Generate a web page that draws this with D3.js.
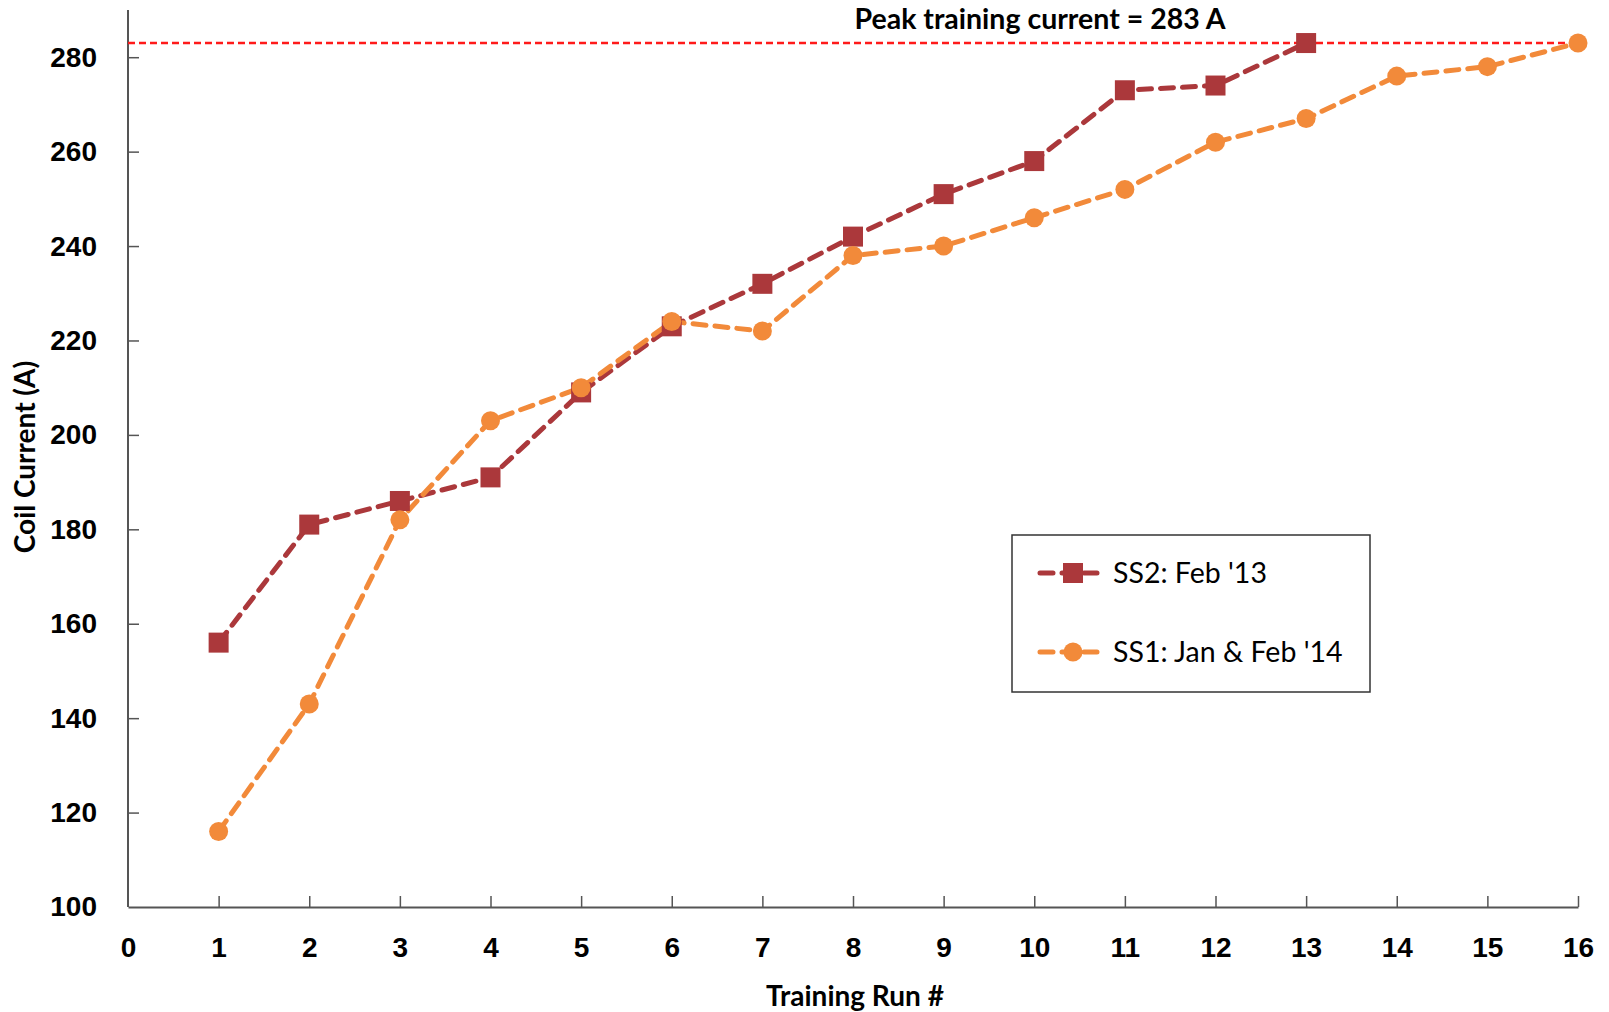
<!DOCTYPE html>
<html>
<head>
<meta charset="utf-8">
<script src="https://cdn.jsdelivr.net/npm/d3@7"></script>
<style>
  body { margin: 0; background: #fff; }
  svg { display: block; font-family: Lato, "Open Sans", sans-serif; }
</style>
</head>
<body>
<svg width="1609" height="1012"></svg>
<script>
// data
const runsSS2 = [1, 2, 3, 4, 5, 6, 7, 8, 9, 10, 11, 12, 13];
const currentSS2 = [156, 181, 186, 191, 209, 223, 232, 242, 251, 258, 273, 274, 283];
const runsSS1 = [1, 2, 3, 4, 5, 6, 7, 8, 9, 10, 11, 12, 13, 14, 15, 16];
const currentSS1 = [116, 143, 182, 203, 210, 224, 222, 238, 240, 246, 252, 262, 267, 276, 278, 283];
const xTicks = d3.range(0, 17);
const yTicks = [100, 120, 140, 160, 180, 200, 220, 240, 260, 280];
const peakCurrent = 283;
const seriesNames = ["SS2: Feb '13", "SS1: Jan & Feb '14"];

const colSS2 = '#ab383b';
const colSS1 = '#f28a3a';
const axisCol = '#555';

const svg = d3.select('svg');

const x = d3.scaleLinear().domain([0, 16]).range([128, 1578]);
const y = d3.scaleLinear().domain([100, 290]).range([907, 10]);

// axes
const xAxis = svg.append('g')
  .attr('transform', `translate(0,${y(100)})`)
  .call(d3.axisBottom(x).tickValues(xTicks).tickSize(-11).tickPadding(30).tickSizeOuter(0));
const yAxis = svg.append('g')
  .attr('transform', `translate(${x(0)},0)`)
  .call(d3.axisLeft(y).tickValues(yTicks).tickSize(-11).tickPadding(31).tickSizeOuter(0));

// left axis runs up to the top of the plot
yAxis.select('.domain').attr('d', `M0,${y(100)}V${y(290)}`);

[xAxis, yAxis].forEach(g => {
  g.select('.domain').attr('stroke', axisCol).attr('stroke-width', 2);
  g.selectAll('.tick line').attr('stroke', axisCol).attr('stroke-width', 1.5);
  g.selectAll('.tick text')
    .attr('fill', '#000')
    .style('font-size', '28px')
    .style('font-weight', 'bold');
});
yAxis.selectAll('.tick line').filter(d => d === 100).remove();
xAxis.selectAll('.tick line').filter(d => d === 0).remove();

// peak line
svg.append('line')
  .attr('x1', x(0)).attr('x2', x(16))
  .attr('y1', y(peakCurrent)).attr('y2', y(peakCurrent))
  .attr('stroke', '#ff1a1a')
  .attr('stroke-width', 2.5)
  .attr('stroke-dasharray', '7,4');

svg.append('text')
  .attr('x', 1040).attr('y', 29)
  .attr('text-anchor', 'middle')
  .style('font-size', '28.5px').style('font-weight', 'bold')
  .text('Peak training current = 283 A');

// series
const line = d3.line().x(d => x(d[0])).y(d => y(d[1]));
const ss2 = d3.zip(runsSS2, currentSS2);
const ss1 = d3.zip(runsSS1, currentSS1);

svg.append('path').datum(ss2)
  .attr('d', line)
  .attr('fill', 'none').attr('stroke', colSS2)
  .attr('stroke-width', 5).attr('stroke-dasharray', '13,9')
  .attr('stroke-linecap', 'round');

svg.append('path').datum(ss1)
  .attr('d', line)
  .attr('fill', 'none').attr('stroke', colSS1)
  .attr('stroke-width', 5).attr('stroke-dasharray', '13,9')
  .attr('stroke-linecap', 'round');

svg.selectAll('.sq').data(ss2).enter().append('rect')
  .attr('x', d => x(d[0]) - 10).attr('y', d => y(d[1]) - 10)
  .attr('width', 20).attr('height', 20)
  .attr('fill', colSS2);

svg.selectAll('.dot').data(ss1).enter().append('circle')
  .attr('cx', d => x(d[0])).attr('cy', d => y(d[1]))
  .attr('r', 9.5)
  .attr('fill', colSS1);

// axis titles
svg.append('text')
  .attr('x', 855).attr('y', 1006)
  .attr('text-anchor', 'middle')
  .style('font-size', '28px').style('font-weight', 'bold')
  .text('Training Run #');

svg.append('text')
  .attr('transform', 'translate(35,457) rotate(-90)')
  .attr('text-anchor', 'middle')
  .style('font-size', '28px').style('font-weight', 'bold')
  .text('Coil Current (A)');

// legend
const legend = svg.append('g');
legend.append('rect')
  .attr('x', 1012).attr('y', 535)
  .attr('width', 358).attr('height', 157)
  .attr('fill', '#fff').attr('stroke', '#333').attr('stroke-width', 1.5);

const legRows = [
  { name: seriesNames[0], col: colSS2, shape: 'square', y: 573 },
  { name: seriesNames[1], col: colSS1, shape: 'circle', y: 652 }
];
legRows.forEach(r => {
  legend.append('line')
    .attr('x1', 1040).attr('x2', 1100)
    .attr('y1', r.y).attr('y2', r.y)
    .attr('stroke', r.col).attr('stroke-width', 5)
    .attr('stroke-dasharray', '13,9')
    .attr('stroke-linecap', 'round');
  if (r.shape === 'square') {
    legend.append('rect')
      .attr('x', 1063).attr('y', r.y - 10)
      .attr('width', 20).attr('height', 20).attr('fill', r.col);
  } else {
    legend.append('circle')
      .attr('cx', 1073).attr('cy', r.y).attr('r', 9.5).attr('fill', r.col);
  }
  legend.append('text')
    .attr('x', 1113).attr('y', r.y + 10)
    .style('font-size', '28.5px')
    .text(r.name);
});
</script>
</body>
</html>
